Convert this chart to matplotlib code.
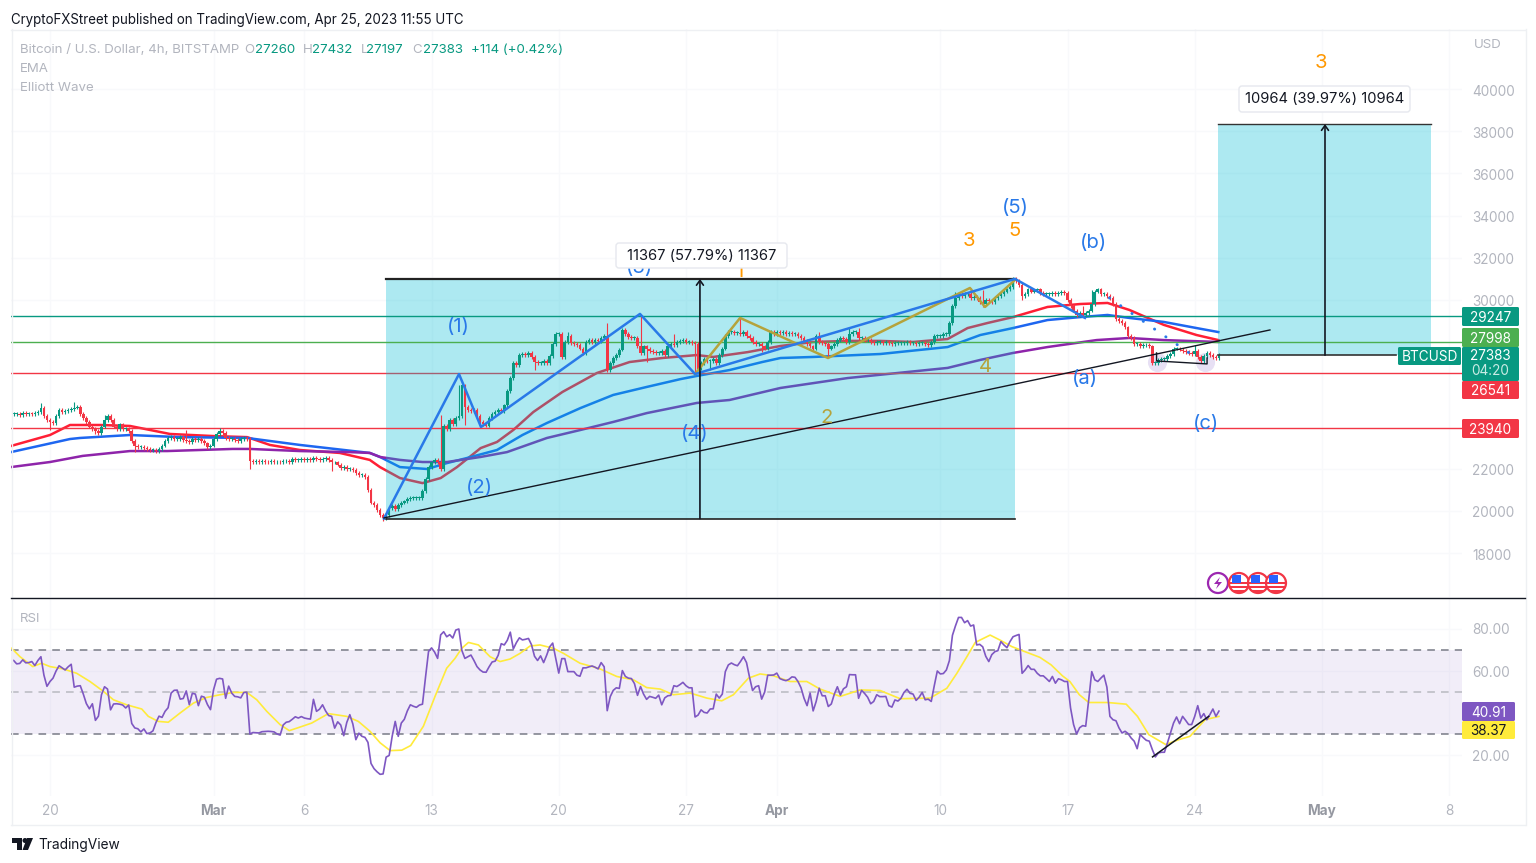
import numpy as np
import matplotlib
matplotlib.use("Agg")
import matplotlib.pyplot as plt
from matplotlib.lines import Line2D
from matplotlib.patches import Circle, FancyBboxPatch, Polygon, Rectangle
from matplotlib.transforms import Affine2D, ScaledTranslation

plt.rcParams['font.family'] = ['Inter', 'DejaVu Sans']

# all x values are days since Feb 20 2023
closes = [
    24600, 24600, 24550, 24650, 24600, 24620,
    24600, 24650, 24700, 24900, 24500, 24300,
    24200, 24150, 24500, 24800, 24700, 24750,
    24800, 24850, 24900, 24950, 24600, 24400,
    24200, 24000, 23900, 23800, 23700, 24000,
    24300, 24500, 24300, 24000, 23900, 24100,
    23900, 23900, 23800, 23300, 23100, 23050,
    23050, 23000, 22950, 22900, 22900, 22850,
    22950, 23100, 23300, 23450, 23500, 23400,
    23400, 23500, 23350, 23300, 23250, 23400,
    23350, 23400, 23300, 23200, 23050, 23100,
    23400, 23650, 23800, 23700, 23450, 23400,
    23400, 23350, 23300, 23400, 23450, 23400,
    22350, 22300, 22350, 22300, 22350, 22330,
    22300, 22350, 22300, 22320, 22300, 22350,
    22350, 22300, 22450, 22400, 22420, 22450,
    22400, 22450, 22420, 22500, 22450, 22400,
    22450, 22500, 22400, 22300, 22300, 22200,
    22050, 22100, 22000, 22000, 21950, 21800,
    21700, 21700, 21600, 21000, 20400, 20300,
    20050, 19800, 19650, 19800, 20150, 20250,
    20100, 20300, 20400, 20450, 20550, 20600,
    20600, 20600, 20600, 20950, 21500, 22100,
    22300, 22400, 22300, 22000, 24050, 23900,
    24300, 24100, 24400, 24500, 25950, 24950,
    24800, 24750, 24800, 24500, 24200, 24100,
    24050, 24400, 24600, 24700, 24800, 24750,
    25000, 25700, 26300, 27000, 26900, 27400,
    27450, 27400, 27500, 27300, 27050, 27000,
    27000, 27100, 27000, 27350, 27900, 28400,
    28400, 27300, 28000, 28300, 27950, 27900,
    27850, 27700, 27500, 28000, 28100, 28000,
    28100, 28050, 28200, 28300, 26700, 27000,
    27250, 27400, 27650, 28600, 28400, 28250,
    28200, 28200, 27800, 27500, 27800, 27700,
    27600, 27550, 27500, 27500, 27600, 27400,
    27800, 27900, 27850, 28000, 28050, 28100,
    28000, 28000, 27950, 27900, 26750, 27000,
    27200, 27100, 27100, 27200, 27000, 27400,
    27700, 28300, 28500, 28500, 28450, 28450,
    28400, 28500, 28300, 28200, 28000, 27900,
    27900, 27800, 27700, 28000, 28500, 28400,
    28500, 28450, 28500, 28400, 28450, 28400,
    28400, 28300, 28200, 28050, 27900, 27800,
    27700, 28300, 28000, 27950, 27900, 27700,
    27800, 27900, 28100, 28200, 28150, 28000,
    28400, 28500, 28500, 28200, 28200, 28100,
    28100, 28000, 27950, 28000, 28000, 27950,
    28000, 27950, 27900, 27950, 27950, 27950,
    27950, 28000, 27950, 27950, 27900, 27950,
    27950, 27900, 27850, 28000, 28300, 28300,
    28300, 28400, 28400, 28900, 29700, 30100,
    30300, 30200, 30300, 30300, 30100, 30150,
    30100, 29900, 29800, 30000, 29950, 29900,
    30100, 30200, 30300, 30400, 30500, 30600,
    31000, 30900, 30700, 30200, 30300, 30500,
    30400, 30450, 30500, 30350, 30300, 30300,
    30300, 30350, 30300, 30350, 30400, 30350,
    30000, 29700, 29500, 29300, 29400, 29300,
    29400, 29500, 29800, 30400, 30500, 30300,
    30300, 30200, 30100, 29800, 29100, 29000,
    28900, 28700, 28300, 28200, 27900, 27900,
    27800, 27850, 27850, 27800, 27000, 27000,
    27150, 27200, 27200, 27350, 27450, 27700,
    27700, 27650, 27600, 27550, 27500, 27450,
    27600, 27300, 27100, 27350, 27500, 27400,
    27300, 27260, 27383,
]

# the longer wicks that stand out, by bar number
wick_high_bars = [9, 20, 30, 57, 68, 141, 147, 179, 183, 196, 201, 207, 218, 225, 240, 266, 276, 279,
                  311, 316, 320, 330, 353, 356, 390]
wick_highs = [25100, 25160, 24550, 23840, 23930, 24550, 25970, 28440, 28480, 28910, 28670, 29290, 28400,
              27980, 29150, 28480, 28670, 28670, 30380, 30570, 30470, 30950, 29700, 30470, 27870]
wick_low_bars = [12, 27, 40, 47, 78, 105, 122, 141, 149, 154, 172, 181, 196, 209, 225, 230, 247, 269,
                 320, 333, 377, 393]
wick_lows = [23840, 23650, 22790, 22790, 22000, 21900, 19520, 21940, 24070, 23980, 26680, 27250, 26590,
             27060, 26540, 26680, 27530, 27250, 29670, 30000, 27060, 26990]
typical_wick = 90

ema_fast_days = [-2.15, 0, 1.1, 2.75, 4.4, 5.5, 6.6, 9, 10.85, 12.1, 13.75, 15.95, 17.6, 18.16, 19.26, 20.5,
                 21.5, 22.4, 23.7, 24.6, 25.5, 26.6, 28.2, 30.1, 31.9, 33.7, 35.6, 36.5, 38.4, 40.2, 42,
                 43.9, 45.7, 47.5, 49.4, 50.5, 51.6, 53, 54.9, 56.7, 58.2, 59.4, 61.3, 63.1, 64.3]
ema_fast = [23080, 23600, 24075, 24075, 24030, 23840, 23650, 23550, 23500, 23130, 22890, 22750, 22420, 22080,
            21560, 21320, 21560, 22080, 22980, 23270, 23840, 24690, 25640, 26540, 27060, 27250, 27390, 27300,
            27530, 27820, 28010, 28060, 28060, 28010, 28150, 28670, 28910, 29190, 29670, 29810, 29860, 29530,
            28820, 28340, 28100]
ema_mid_days = [-2.15, 1.1, 1.65, 4.4, 7.15, 10.85, 13.75, 17.6, 18.16, 19.26, 20.75, 21.85, 22.95, 24.6, 26,
                27.35, 29.2, 31, 32.85, 34.7, 35.6, 37.4, 39.2, 40.2, 42, 45.7, 49.4, 51.2, 53, 54.9, 56.7,
                58.2, 59.4, 61.3, 63.1, 64.3]
ema_mid = [22790, 23410, 23460, 23600, 23500, 23460, 23130, 22750, 22560, 22080, 21990, 22270, 22510, 22890,
           23600, 24170, 24880, 25500, 25880, 26250, 26400, 26680, 27060, 27250, 27300, 27440, 27770, 28340,
           28670, 29050, 29190, 29290, 29150, 28960, 28670, 28480]
ema_slow_days = [-2.15, 0, 1.8, 4.4, 6.45, 10.05, 11, 13.75, 16.5, 17.6, 18.16, 19.26, 20.5, 21.85, 23.7, 25.15,
                 27.35, 29.2, 31, 32.85, 35.6, 37.4, 40.2, 43.9, 49.4, 51.2, 53, 54.9, 57.6, 59.4, 61.3, 64.3]
ema_slow = [22080, 22320, 22610, 22840, 22840, 22940, 22940, 22840, 22790, 22750, 22560, 22420, 22320, 22320,
            22560, 22790, 23460, 23840, 24220, 24640, 25120, 25260, 25830, 26300, 26780, 27160, 27490, 27770,
            28100, 28200, 28100, 28010]

wave_blue_days = [18.38, 22.51, 23.72, 32.47, 35.5, 53.11, 56.96]
wave_blue = [19640, 26490, 23980, 29340, 26490, 31000, 29150]
wave_dots_days = [58.3, 63.1]
wave_dots = [30100, 27250]
wave_olive_days = [35.5, 37.98, 42.82, 50.63, 51.46, 53.11]
wave_olive = [26490, 29150, 27250, 30570, 29670, 30950]
wave_labels = ["(1)", "(2)", "(3)", "(4)", "(5)", "(a)", "(b)", "(c)"]
wave_label_days = [22.45, 23.66, 32.47, 35.5, 53.15, 56.96, 57.45, 63.63]
wave_label_prices = [28815, 21185, 31610, 23745, 34455, 26350, 32795, 24220]
orange_labels = ["1", "3", "5", "3"]
orange_label_days = [37.98, 50.58, 53.1, 69.95]
orange_label_prices = [31420, 32890, 33365, 41325]
olive_labels = ["2", "4"]
olive_label_days = [42.76, 51.46]
olive_label_prices = [24500, 26920]

trend_days = [18.38, 67.14]
trend_prices = [19670, 28580]
wedge_days = [60.9, 60.9, 63.68, 63.68]
wedge_prices = [27490, 27110, 26970, 27250]
marker_days = [60.94, 63.58]
marker_prices = [27050, 27050]

level_prices = [29247, 27998, 26541, 23940]
level_colors = ["#089981", "#4caf50", "#f23645", "#f23645"]

price_ticks = [18000, 20000, 22000, 30000, 32000, 34000, 36000, 38000, 40000]
date_ticks = [0, 9, 14, 21, 28, 35, 40, 49, 56, 63, 70, 77]
date_labels = ["20", "Mar", "6", "13", "20", "27", "Apr", "10", "17", "24", "May", "8"]
bold_dates = ["Mar", "Apr", "May"]

rsi = [
    65, 63.4, 63.6, 65.3, 63.9, 64,
    64.5, 62.6, 65, 66.8, 58, 52.7,
    55, 56.6, 60, 62.5, 61.5, 60.5,
    62, 63.2, 52.3, 52.8, 53, 49,
    44.5, 42, 44.4, 36.5, 38.5, 48.7,
    52.5, 51.4, 41.5, 44.3, 44.4, 44.2,
    43.8, 42.4, 43.8, 35, 32.9, 32.5,
    31, 32.4, 30.2, 30.5, 31.5, 35.5,
    38.5, 37.9, 40.8, 42.5, 49.5, 50.8,
    50.9, 46.6, 46.9, 50.5, 44, 49.4,
    49, 43.5, 48, 47.5, 44, 41.6,
    51, 56.1, 56.5, 56.2, 47, 52.8,
    49.5, 47.9, 47.7, 47.2, 49.8, 49.9,
    30, 30.7, 30.6, 30.5, 31.1, 31.2,
    31.3, 31.2, 31, 30, 29.5, 34.3,
    35.6, 35.9, 37, 38.2, 37.6, 38.3,
    37.6, 37.3, 37.1, 46.5, 40.8, 41.8,
    43.9, 41, 38.8, 38.4, 32.8, 35.8,
    34.3, 29.2, 35.5, 39.2, 34.8, 27.3,
    30.4, 28.9, 28.4, 26, 16, 13.5,
    12, 10.8, 11, 19, 19.8, 29,
    36, 28.9, 35.2, 37, 41, 43.9,
    43.2, 42.7, 43.8, 44.2, 57, 69.3,
    71, 69, 66, 77.2, 78.7, 76.3,
    77.3, 75.7, 79.5, 80, 69.8, 66,
    66.8, 67.6, 65, 62.1, 60.5, 59.5,
    59.4, 62, 64.3, 64.7, 67.5, 73,
    72.4, 74.6, 78.5, 70.5, 73.5, 75.8,
    74.8, 75.1, 75.5, 72.5, 67, 65,
    67.2, 64, 67.5, 71.5, 73.3, 66,
    59, 65.9, 65.9, 59.7, 59.7, 59.7,
    58, 57.5, 61.5, 61.5, 62, 62.4,
    61.8, 61, 64, 62, 41.1, 47.8,
    50.8, 52, 51.7, 60.2, 57.4, 56.6,
    56.4, 54, 48.4, 52.6, 49, 46.5,
    47.9, 47.5, 47, 48.5, 43.9, 47.2,
    48.2, 48.4, 53, 52.6, 53.5, 54.6,
    53, 52, 52, 38.1, 39, 41.5,
    40.3, 40, 41.9, 42, 49, 47.1,
    49, 59.7, 62.9, 63.8, 63, 62.5,
    64.5, 66.8, 64, 57, 50.7, 52.5,
    53, 46.6, 50, 58, 58, 58.1,
    59, 56.4, 55.8, 55.4, 56, 57.2,
    57, 55, 52, 47, 43.5, 49.5,
    41, 45.5, 51.8, 48.2, 48.2, 43.1,
    44.3, 49, 52.5, 48.5, 51.5, 52.5,
    58.3, 58.2, 58.2, 47, 50.8, 49.3,
    47.5, 44.4, 45.5, 48.7, 47.8, 47.8,
    47.9, 43.5, 42.8, 46.2, 45.7, 47,
    49.8, 51.3, 49.4, 49, 46, 47.5,
    49.8, 46.3, 46.6, 45.5, 53, 60,
    58.6, 58.8, 60.5, 65, 77, 81.5,
    85.5, 85.5, 83, 84, 81.4, 81.9,
    72.4, 72.7, 71.5, 67, 64.5, 67.8,
    69.2, 69.7, 74, 72.4, 71.1, 74,
    76.3, 76.9, 77.4, 58.9, 60.5, 62.6,
    60.8, 60.8, 58.9, 57.7, 57.7, 56.4,
    55, 57.4, 54.2, 56.3, 55.8, 55,
    55, 42.4, 34.5, 30, 33, 34,
    33.7, 46.3, 59.7, 55.8, 55, 56.6,
    58, 52.3, 38.4, 36.8, 36.3, 32.9,
    30.5, 31.3, 30.2, 28.1, 26.6, 23,
    29.7, 28.3, 27, 26.6, 22.6, 19.1,
    21, 21.3, 21.3, 25.8, 30.5, 35.2,
    38.1, 34.9, 38.4, 36.5, 34.5, 34.5,
    38.4, 43.5, 37.6, 39.7, 36.8, 39.2,
    41.9, 38.4, 40.91,
]
rsi_ma_days = [-2.11, -1.65, -0.95, -0.46, 0, 0.73, 1.47, 2.2, 2.94, 3.49, 4.22, 5.05, 5.41, 5.96, 6.51, 7.16,
               7.89, 8.62, 9.36, 10.09, 10.83, 11.38, 11.93, 12.66, 13.17, 13.76, 14.4, 15.32, 16.33, 16.97,
               17.61, 18.17, 18.72, 19.36, 19.85, 20.55, 21.19, 21.83, 22.29, 22.66, 23.03, 23.58, 24.22, 24.77,
               25.32, 25.87, 26.42, 26.97, 27.71, 28.26, 29.17, 29.72, 30.27, 31.19, 32.11, 32.84, 33.58, 34.31,
               35.23, 36.15, 36.97, 37.61, 38.44, 39.08, 39.82, 40.73, 41.65, 42.38, 43.49, 44.59, 45.69, 46.79,
               48.44, 49.36, 49.91, 50.46, 50.92, 51.74, 52.29, 52.94, 53.66, 54.48, 55.1, 55.72, 56.13, 56.65,
               57.17, 58.2, 59.23, 59.85, 60.47, 61.4, 62.12, 62.74, 63.57, 64.33]
rsi_ma = [70.8, 66.8, 62.1, 63.7, 62.1, 61, 58.9, 55, 50.3, 46.3, 43.9, 41.9, 38.4, 36, 35.6, 40,
          44.7, 47.4, 48.7, 49.8, 49.8, 46.3, 40.8, 34.5, 31.6, 33.3, 35.2, 39.7, 38.4, 36,
          31.3, 25.8, 22.1, 22.3, 24.5, 33.7, 47.9, 61.3, 66, 70.8, 73.6, 72.4, 66.8, 64.5,
          65.7, 68.4, 71.9, 72.4, 70.8, 68.4, 63.7, 62.4, 61, 57.4, 55.8, 52.1, 51.4, 48.7,
          49.5, 47.1, 45.8, 48.7, 56.6, 58.6, 57.7, 55, 55, 51.4, 47.9, 51, 50.7, 46.8,
          47.1, 51.8, 58.9, 66.8, 73.6, 77.1, 74.7, 71.6, 69.2, 66.5, 62.9, 57.7, 55, 48.7,
          45, 45, 44.2, 38.4, 29.7, 25, 27.3, 28.9, 36.8, 38.37]
rsi_trend_days = [60.68, 63.77]
rsi_trend = [19.1, 38.4]
rsi_ticks = [20, 60, 80]

UP = "#089981"
DOWN = "#f23645"
GREY = "#b2b5be"
WAVE_BLUE = "#2979e8"
ORANGE = "#ff9800"
OLIVE = "#b5a33c"

fig = plt.figure(figsize=(15.36, 8.63), dpi=100)
# page pixels, y going down, for the TradingView chrome around the panes
px = Affine2D().scale(1, -1).translate(0, 863)


def axes_px(left, top, right, bottom):
    return fig.add_axes([left / 1536, 1 - bottom / 863, (right - left) / 1536, (bottom - top) / 863])


def page_text(x, y, s, color="#131722", size=9.55, ha="left", **kw):
    fig.text(x, y + 1, s, color=color, fontsize=size, ha=ha, va="center", transform=px, zorder=20, **kw)


def page_line(x0, y0, x1, y1, color, lw=1.0):
    fig.add_artist(Line2D([x0, x1], [y0, y1], color=color, lw=lw, transform=px, zorder=1))


def tag(x0, y0, x1, y1, color, text, text_color="white"):
    fig.add_artist(FancyBboxPatch((x0, y0), x1 - x0, y1 - y0, boxstyle="round,pad=0,rounding_size=1.5",
                                  fc=color, ec="none", transform=px, zorder=15))
    page_text((x0 + x1) / 2, (y0 + y1) / 2, text, color=text_color, size=9.8, ha="center")


def wave_text(labels, days, prices, color):
    for s, d, p in zip(labels, days, prices):
        ax.annotate(s, (d, p), xytext=(0, -1.5), textcoords="offset points", color=color, fontsize=14.6,
                    ha="center", va="center", zorder=7)


ax = axes_px(11, 29, 1462, 597)
ax.set_xlim(-2.146, 77.71)
ax.set_ylim(15922, 42845)
ax_rsi = axes_px(11, 598, 1462, 796)
ax_rsi.set_xlim(-2.146, 77.71)
ax_rsi.set_ylim(0.48, 94.76)

for a in (ax, ax_rsi):
    for spine in a.spines.values():
        spine.set_visible(False)
    a.set_xticks(date_ticks)
    a.grid(True, color="#f8f9fb", lw=1)
    a.set_axisbelow(True)
    a.yaxis.tick_right()
    a.tick_params(length=0, labelcolor=GREY, labelsize=9.8, pad=7.5)

ax.set_yticks(price_ticks)
ax.tick_params(labelbottom=False)
ax_rsi.set_yticks(rsi_ticks)
ax_rsi.set_yticklabels(["%.2f" % t for t in rsi_ticks])
ax_rsi.set_xticklabels(date_labels)
ax_rsi.tick_params(axis="x", pad=6)
for label in ax_rsi.get_xticklabels():
    label.set_color("#9598a1" if label.get_text() in bold_dates else GREY)
    if label.get_text() in bold_dates:
        label.set_fontweight("bold")

# price labels sit a pixel lower than the tick position
nudge = ScaledTranslation(0, -1 / 100, fig.dpi_scale_trans)
for label in ax.get_yticklabels():
    label.set_transform(label.get_transform() + nudge)

# emas sit under the cyan boxes, that is why they look muted in there
ax.plot(ema_fast_days, ema_fast, color="#ff1f35", lw=1.8, zorder=2)
ax.plot(ema_mid_days, ema_mid, color="#1e66f0", lw=1.8, zorder=2)
ax.plot(ema_slow_days, ema_slow, color="#8e24aa", lw=1.8, zorder=2)
ax.axhline(level_prices[2], color=level_colors[2], lw=1, zorder=2)

zone_left, zone_right = wave_blue_days[0] + 0.11, wave_blue_days[5]
ax.add_patch(Rectangle((zone_left, wave_blue[0]), zone_right - zone_left, wave_blue[5] - wave_blue[0],
                       fc="#00bcd4", alpha=0.32, ec="none", zorder=3))
target_left, target_right = ema_mid_days[-1], 76.0
ax.add_patch(Rectangle((target_left, closes[-1]), target_right - target_left, 38340 - closes[-1],
                       fc="#00bcd4", alpha=0.32, ec="none", zorder=3))

for price, color in zip([level_prices[0], level_prices[1], level_prices[3]],
                        [level_colors[0], level_colors[1], level_colors[3]]):
    ax.axhline(price, color=color, lw=1, zorder=3.5)

# candles
closes_arr = np.array(closes, dtype=float)
opens_arr = np.r_[closes_arr[0], closes_arr[:-1]]
bar_days = -2 + np.arange(len(closes_arr)) / 6
bar_colors = [UP if c >= o else DOWN for o, c in zip(opens_arr, closes_arr)]
highs = np.maximum(opens_arr, closes_arr) + typical_wick
lows = np.minimum(opens_arr, closes_arr) - typical_wick
highs[wick_high_bars] = np.maximum(highs[wick_high_bars], wick_highs)
lows[wick_low_bars] = np.minimum(lows[wick_low_bars], wick_lows)
ax.vlines(bar_days, lows, highs, colors=bar_colors, lw=0.8, zorder=4)
ax.bar(bar_days, np.maximum(np.abs(closes_arr - opens_arr), 40), bottom=np.minimum(opens_arr, closes_arr),
       width=0.145, color=bar_colors, lw=0, zorder=4)

ax.scatter(marker_days, marker_prices, s=190, color="#7e57c2", alpha=0.18, lw=0, zorder=3.8)

ax.plot(wave_olive_days, wave_olive, color=OLIVE, lw=1.8, zorder=5)
ax.plot(wave_blue_days, wave_blue, color=WAVE_BLUE, lw=1.8, zorder=5.1)
ax.plot(wave_dots_days, wave_dots, color=WAVE_BLUE, lw=2.1, ls=(0, (0.1, 4.6)), dash_capstyle="round", zorder=5)
ax.plot(trend_days, trend_prices, color="#131722", lw=1, zorder=5.2)
ax.plot(wedge_days, wedge_prices, color="#131722", lw=1, zorder=5.2)

# measure tools
ax.plot([zone_left, zone_right], [wave_blue[5]] * 2, color="#222222", lw=1.6, zorder=5)
ax.plot([zone_left, zone_right], [wave_blue[0]] * 2, color="#222222", lw=1.2, zorder=5)
ax.plot([target_left, target_right], [38340] * 2, color="#333333", lw=1, zorder=5)
ax.plot([target_left, 74.1], [closes[-1]] * 2, color="#333333", lw=1.2, zorder=5)
for day, low, high in [(35.77, wave_blue[0], wave_blue[5]), (70.17, closes[-1], 38340)]:
    ax.annotate("", xy=(day, high), xytext=(day, low), zorder=6,
                arrowprops=dict(arrowstyle="->,head_length=0.35,head_width=0.25", color="#131722", lw=1.2,
                                shrinkA=0, shrinkB=0))

wave_text(wave_labels, wave_label_days, wave_label_prices, WAVE_BLUE)
wave_text(orange_labels, orange_label_days, orange_label_prices, ORANGE)
wave_text(olive_labels, olive_label_days, olive_label_prices, OLIVE)

# rsi pane
ax_rsi.axhspan(30, 70, color="#7e57c2", alpha=0.1, lw=0, zorder=1)
for level, color in [(70, "#787b86"), (50, "#b8b9c0"), (30, "#787b86")]:
    ax_rsi.axhline(level, color=color, lw=1.1, ls=(0, (5, 4)), zorder=2)
ax_rsi.plot(bar_days, rsi, color="#7e57c2", lw=1.2, zorder=4)
ax_rsi.plot(rsi_ma_days, rsi_ma, color="#ffeb3b", lw=1.2, zorder=3)
ax_rsi.plot(rsi_trend_days, rsi_trend, color="#131722", lw=1.1, zorder=5)

# frame around the panes
page_line(11, 29.5, 1525, 29.5, "#eef0f3")
page_line(11.5, 29, 11.5, 825, "#eef0f3")
page_line(1525.5, 29, 1525.5, 825, "#eef0f3")
page_line(11, 825, 1525, 825, "#eef0f3")
page_line(11, 597.5, 1525, 597.5, "#131722", lw=1.0)

page_text(11, 19, "CryptoFXStreet published on TradingView.com, Apr 25, 2023 11:55 UTC", size=9.62)
page_text(20, 49, "Bitcoin / U.S. Dollar, 4h, BITSTAMP", color=GREY)
page_text(20, 68, "EMA", color=GREY)
page_text(20, 87, "Elliott Wave", color=GREY)
page_text(20, 618, "RSI", color=GREY)
page_text(1488, 44, "USD", color=GREY, ha="center")
for letter, x, value, x_value in [("O", 244, "27260", 255), ("H", 303, "27432", 312),
                                  ("L", 361, "27197", 366), ("C", 412, "27383", 423)]:
    page_text(x, 49, letter, color=GREY)
    page_text(x_value, 49, value, color=UP)
page_text(471, 49, "+114 (+0.42%)", color=UP)

# price tags, shifted by TradingView so that they do not overlap
tag(1462, 307, 1519, 326, UP, "29247")
tag(1462, 328, 1519, 347, "#4caf50", "27998")
fig.add_artist(FancyBboxPatch((1462, 347), 57, 34, boxstyle="round,pad=0,rounding_size=1.5", fc=UP, ec="none",
                              transform=px, zorder=15))
page_text(1490.5, 355, "27383", color="white", size=9.8, ha="center")
page_text(1490.5, 370, "04:20", color="#c8ebe4", size=9.8, ha="center")
tag(1398, 347, 1461, 365, UP, "BTCUSD")
tag(1462, 381, 1519, 399, DOWN, "26541")
tag(1462, 419, 1519, 438, DOWN, "23940")
tag(1462, 702, 1515, 721, "#7e57c2", "40.91")
tag(1462, 721, 1515, 739, "#ffeb3b", "38.37", text_color="#131722")

# measure callouts
for x0, y0, x1, y1, s in [(616, 243, 787, 268, "11367 (57.79%) 11367"), (1239, 86, 1410, 112, "10964 (39.97%) 10964")]:
    fig.add_artist(FancyBboxPatch((x0, y0), x1 - x0, y1 - y0, boxstyle="round,pad=0,rounding_size=3", fc="white",
                                  ec="#e6e8ee", lw=1, transform=px, zorder=15))
    page_text((x0 + x1) / 2, (y0 + y1) / 2 - 1, s, size=10.6, ha="center")

# event icons above the rsi pane
fig.add_artist(Circle((1218, 583), 10, fc="white", ec="#9c27b0", lw=1.6, transform=px, zorder=15))
fig.add_artist(Polygon([(1220, 577), (1214, 584), (1218, 584), (1216, 589), (1222, 582), (1218, 582)],
                       fc="#9c27b0", ec="none", transform=px, zorder=16))
for x in (1239, 1258, 1276):
    badge = Circle((x, 583), 10, fc="white", ec="#f23645", lw=1.6, transform=px, zorder=15)
    fig.add_artist(badge)
    for y in (583, 587, 591):
        stripe = Rectangle((x - 9, y - 1), 18, 2.2, fc="#f23645", ec="none", transform=px, zorder=16)
        fig.add_artist(stripe)
        stripe.set_clip_path(badge)
    canton = Rectangle((x - 7, 575), 8.5, 8, fc="#2962ff", ec="none", transform=px, zorder=17)
    fig.add_artist(canton)
    canton.set_clip_path(badge)

# TradingView logo
fig.add_artist(Polygon([(12, 838), (22, 838), (22, 850), (17, 850), (17, 843), (12, 843)], fc="#131722", ec="none",
                       transform=px, zorder=15))
fig.add_artist(Circle((25, 840.5), 2.5, fc="#131722", ec="none", transform=px, zorder=15))
fig.add_artist(Polygon([(27, 838), (33, 838), (28, 850), (22.5, 850)], fc="#131722", ec="none", transform=px,
                       zorder=15))
page_text(38, 843.5, "TradingView", size=9.9)

fig.savefig("out.png", dpi=100, facecolor="white")
